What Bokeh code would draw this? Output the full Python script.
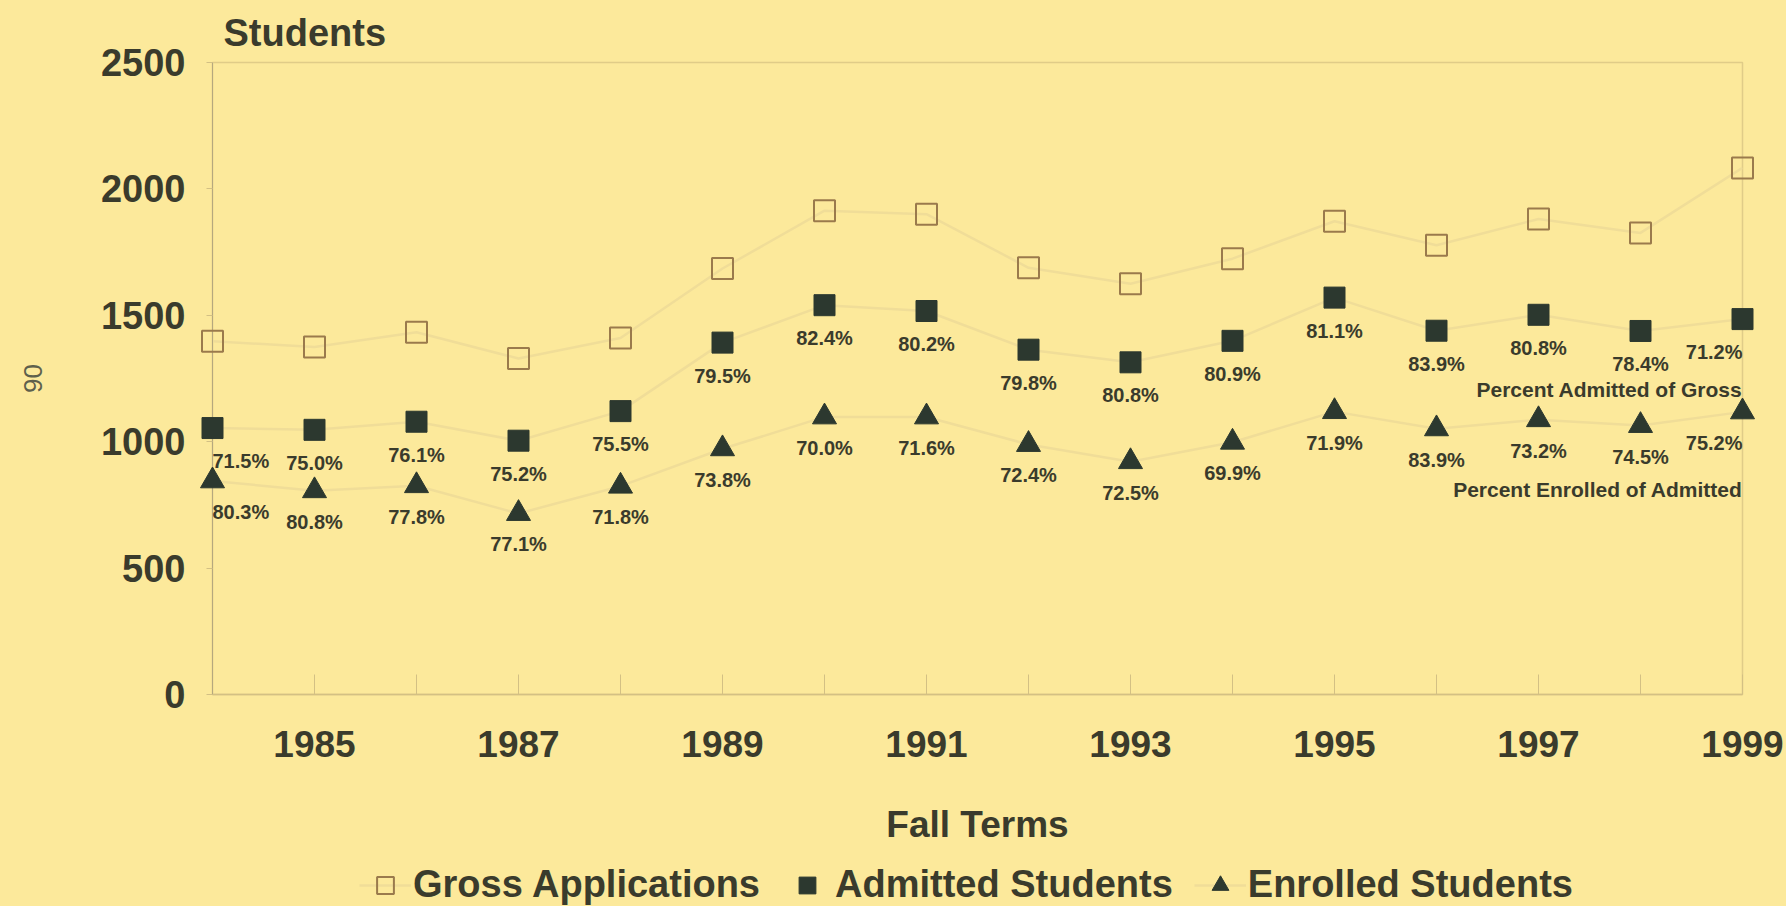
from bokeh.plotting import figure
from bokeh.layouts import column
from bokeh.models import (ColumnDataSource, Range1d, FixedTicker, Legend,
                          LegendItem, Label)
from bokeh.embed import file_html
from bokeh.resources import INLINE
from bokeh.core.properties import value

# ---------------- data ----------------
years = [1984, 1985, 1986, 1987, 1988, 1989, 1990, 1991,
         1992, 1993, 1994, 1995, 1996, 1997, 1998, 1999]
gross_applications = [1397, 1375, 1433, 1329, 1410, 1685, 1914, 1900,
                      1688, 1625, 1724, 1872, 1777, 1881, 1826, 2083]
admitted_students = [1054, 1047, 1079, 1004, 1121, 1392, 1540, 1517,
                     1364, 1314, 1399, 1570, 1439, 1502, 1438, 1485]
enrolled_students = [845, 806, 826, 716, 824, 972, 1098, 1098,
                     989, 921, 998, 1119, 1051, 1087, 1064, 1118]
pct_admitted_of_gross = ["71.5%", "75.0%", "76.1%", "75.2%", "75.5%", "79.5%",
                         "82.4%", "80.2%", "79.8%", "80.8%", "80.9%", "81.1%",
                         "83.9%", "80.8%", "78.4%", "71.2%"]
pct_enrolled_of_admitted = ["80.3%", "80.8%", "77.8%", "77.1%", "71.8%", "73.8%",
                            "70.0%", "71.6%", "72.4%", "72.5%", "69.9%", "71.9%",
                            "83.9%", "73.2%", "74.5%", "75.2%"]
x_tick_labels = ["1985", "1987", "1989", "1991", "1993", "1995", "1997", "1999"]
y_ticks = [0, 500, 1000, 1500, 2000, 2500]
series_names = ["Gross Applications", "Admitted Students", "Enrolled Students"]

# ---------------- style ----------------
BG = "#FCE99B"
TEXT = "#3A3B2C"
DARK = "#2C382F"
OPEN = "#9A7A4C"
FAINT = "#F0DD98"
FONT = value("Liberation Sans")
W = 1786

n = len(years)
aligns = ["left"] + ["center"] * (n - 2) + ["right"]

src = ColumnDataSource(dict(
    year=years, gross=gross_applications, admitted=admitted_students,
    enrolled=enrolled_students, pa=pct_admitted_of_gross,
    pe=pct_enrolled_of_admitted, align=aligns,
))

fig = figure(width=W, height=860,
             x_range=Range1d(years[0], years[-1]),
             y_range=Range1d(y_ticks[0], y_ticks[-1]),
             output_backend="svg", toolbar_location=None,
             min_border_left=212, min_border_right=44,
             min_border_top=61, min_border_bottom=166,
             background_fill_color=BG, border_fill_color=BG)
fig.xgrid.visible = False
fig.ygrid.visible = False
fig.outline_line_color = "#E0CC88"
fig.outline_line_width = 1.5

# title "Students"
fig.title.text = "Students"
fig.title.align = "left"
fig.title.offset = 11
fig.title.standoff = 18
fig.title.text_font = "Liberation Sans"
fig.title.text_font_style = "bold"
fig.title.text_font_size = "38px"
fig.title.text_color = TEXT

# axes
xa = fig.xaxis[0]
xa.ticker = FixedTicker(ticks=years)
xa.major_label_overrides = {y: (str(y) if str(y) in x_tick_labels else "") for y in years}
xa.major_tick_in = 20
xa.major_tick_out = 0
xa.minor_tick_line_color = None
xa.major_tick_line_color = "#D3C084"
xa.axis_line_color = "#D3C084"
xa.axis_line_width = 1.5
xa.major_label_text_font = "Liberation Sans"
xa.major_label_text_font_style = "bold"
xa.major_label_text_font_size = "37px"
xa.major_label_text_color = TEXT
xa.major_label_standoff = 36
xa.axis_label = "Fall Terms"
xa.axis_label_text_font = "Liberation Sans"
xa.axis_label_text_font_style = "bold"
xa.axis_label_text_font_size = "37px"
xa.axis_label_text_color = TEXT
xa.axis_label_standoff = 44

ya = fig.yaxis[0]
ya.ticker = FixedTicker(ticks=y_ticks)
ya.major_tick_in = 0
ya.major_tick_out = 6
ya.minor_tick_line_color = None
ya.major_tick_line_color = "#D3C084"
ya.axis_line_color = "#B5A87E"
ya.axis_line_width = 1
ya.major_label_text_font = "Liberation Sans"
ya.major_label_text_font_style = "bold"
ya.major_label_text_font_size = "38px"
ya.major_label_text_color = TEXT
ya.major_label_standoff = 21
ya.axis_label = "90"
ya.axis_label_text_font = "Liberation Sans"
ya.axis_label_text_font_style = "normal"
ya.axis_label_text_font_size = "26px"
ya.axis_label_text_color = "#5E604C"
ya.axis_label_standoff = 56

# series
line_kw = dict(line_color=FAINT, line_width=2.5)
gross_kw = dict(marker="square", size=21, fill_color=None, line_color=OPEN, line_width=2)
adm_kw = dict(marker="square", size=21, fill_color=DARK, line_color=DARK)
enr_kw = dict(marker="triangle", size=24, fill_color=DARK, line_color=DARK)

fig.line("year", "gross", source=src, **line_kw)
fig.line("year", "admitted", source=src, **line_kw)
fig.line("year", "enrolled", source=src, **line_kw)
fig.scatter("year", "gross", source=src, level="overlay", **gross_kw)
fig.scatter("year", "admitted", source=src, level="overlay", **adm_kw)
fig.scatter("year", "enrolled", source=src, level="overlay", **enr_kw)

# percentage labels
fig.text("year", "admitted", text="pa", source=src, y_offset=33,
         text_align="align", text_baseline="middle", text_font=FONT,
         text_font_style="bold", text_font_size="20px", text_color=TEXT,
         level="overlay")
fig.text("year", "enrolled", text="pe", source=src, y_offset=31,
         text_align="align", text_baseline="middle", text_font=FONT,
         text_font_style="bold", text_font_size="20px", text_color=TEXT,
         level="overlay")

# annotations inside the plot
for y, txt in [(1205, "Percent Admitted of Gross"), (810, "Percent Enrolled of Admitted")]:
    fig.add_layout(Label(x=years[-1], y=y, text=txt, text_align="right",
                         text_baseline="middle", text_font="Liberation Sans",
                         text_font_style="bold", text_font_size="21px",
                         text_color=TEXT))

# legend strip: a second small figure whose frame lines up with the chart;
# its renderers use the same data but lie outside its range (only swatches show)
lf = figure(width=W, height=46, x_range=Range1d(0, 1), y_range=Range1d(0, 1),
            output_backend="svg", toolbar_location=None,
            min_border_left=212, min_border_right=44, min_border_top=0,
            min_border_bottom=0, background_fill_color=None,
            border_fill_color=BG, outline_line_color=None)
lf.axis.visible = False
lf.grid.visible = False
l_g = lf.line("year", "gross", source=src, **line_kw)
s_g = lf.scatter("year", "gross", source=src, **gross_kw)
s_a = lf.scatter("year", "admitted", source=src, **adm_kw)
l_e = lf.line("year", "enrolled", source=src, **line_kw)
s_e = lf.scatter("year", "enrolled", source=src, **enr_kw)

legend = Legend(items=[
    LegendItem(label=series_names[0], renderers=[l_g, s_g]),
    LegendItem(label=series_names[1], renderers=[s_a]),
    LegendItem(label=series_names[2], renderers=[l_e, s_e]),
], orientation="horizontal", location=(147, 0),
    glyph_width=52, glyph_height=42, label_standoff=2, spacing=21,
    padding=0, margin=0, border_line_color=None, background_fill_alpha=0,
    label_text_font="Liberation Sans", label_text_font_style="bold",
    label_text_font_size="38px", label_text_color=TEXT)
lf.add_layout(legend)

p = column(fig, lf, spacing=0, styles={"background-color": BG})

open("out.html", "w").write(file_html(p, INLINE))
